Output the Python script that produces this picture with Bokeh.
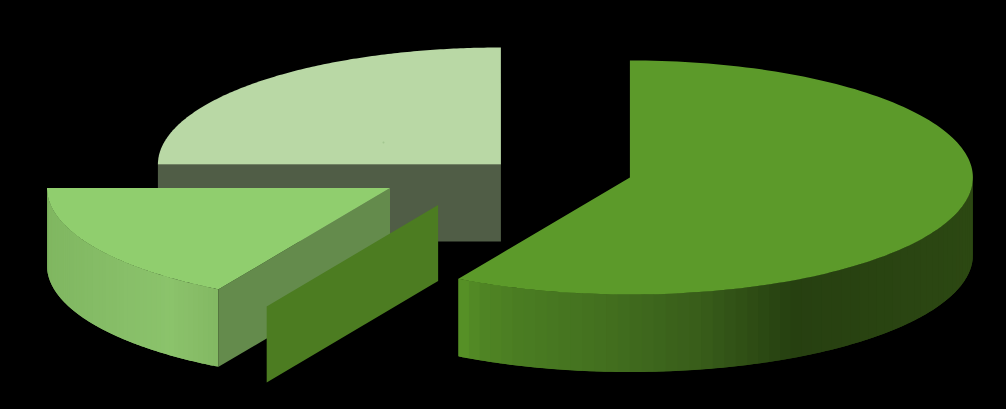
import numpy as np
from bokeh.embed import file_html
from bokeh.models import ColumnDataSource, GlobalInlineStyleSheet, Range1d
from bokeh.plotting import figure
from bokeh.resources import INLINE

# Chart data: share of each slice in percent, in clockwise order from 12 o'clock
slice_names = ["A", "B", "C", "D"]
slice_values = [58.33, 0.0, 16.67, 25.0]

# Styles per slice
top_colors = ["#5c9a2a", "#4c7c21", "#90ce6e", "#b9d8a5"]
face_colors = ["#4c7c21", "#4c7c21", "#648b4c", "#505d46"]
wall_stops = {
    "A": ([458, 480, 520, 600, 700, 790, 805, 973],
          ["#589327", "#508524", "#4a7c22", "#43701f", "#385d1a", "#264010", "#274011", "#2c4812"]),
    "C": ([47, 130, 170, 190, 219],
          ["#80b761", "#88bf69", "#8bc36b", "#88be68", "#82b862"]),
}

# Layout of the exploded pie
RX, RY = 343.0, 117.0
depth = {"A": 77.5, "B": 76.0, "C": 77.5, "D": 77.0}
apex = {"A": (629.4, 177.0), "B": (437.6, 204.6), "C": (389.5, 187.5), "D": (500.4, 164.0)}


def rim(cx, cy, a0, a1, n=160):
    t = np.radians(np.linspace(a0, a1, n))
    return cx + RX * np.sin(t), cy - RY * np.cos(t)


def hex2rgb(c):
    return [int(c[i:i + 2], 16) for i in (1, 3, 5)]


def color_at(x, stops):
    xs, cols = stops
    rgb = np.array([hex2rgb(c) for c in cols], dtype=float)
    vals = [int(round(float(np.interp(x, xs, rgb[:, k])))) for k in range(3)]
    return "#%02x%02x%02x" % tuple(vals)


p = figure(width=1006, height=409, x_range=Range1d(0, 1006), y_range=Range1d(409, 0),
           x_axis_type=None, y_axis_type=None, toolbar_location=None,
           output_backend="svg", min_border=0, outline_line_color=None,
           background_fill_color="#000000", border_fill_color="#000000")
p.grid.visible = False
p.stylesheets = [GlobalInlineStyleSheet(css="html,body{margin:0;padding:0;background:#000;overflow:hidden}")]

# Start and end angle of every slice, derived from the values
ends = np.cumsum(slice_values) / sum(slice_values) * 360.0
starts = np.concatenate([[0.0], ends[:-1]])
angles = {n: (s, e) for n, s, e in zip(slice_names, starts, ends)}
idx = {n: i for i, n in enumerate(slice_names)}


def poly(xs, ys, color):
    src = ColumnDataSource(dict(x=[list(xs)], y=[list(ys)], c=[color]))
    p.patches("x", "y", source=src, fill_color="c", line_color=None)


def inner_face(name, angle):
    cx, cy = apex[name]
    ex, ey = rim(cx, cy, angle, angle, 1)
    d = depth[name]
    poly([cx, ex[0], ex[0], cx], [cy, ey[0], ey[0] + d, cy + d], face_colors[idx[name]])


def outer_wall(name, a0, a1, n=60):
    # Each band reaches into the next one, which paints over it, so that no seams show
    cx, cy = apex[name]
    d = depth[name]
    edges = np.linspace(a0, a1, n + 1)
    step = edges[1] - edges[0]
    xs, ys, cs = [], [], []
    for u, v in zip(edges[:-1], edges[1:]):
        x, y = rim(cx, cy, u, v, 4)
        cs.append(color_at(x.mean(), wall_stops[name]))
        x, y = rim(cx, cy, u, min(v + step, a1), 6)
        xs.append(list(x) + list(x[::-1]))
        ys.append(list(y) + list(y[::-1] + d))
    src = ColumnDataSource(dict(x=xs, y=ys, c=cs))
    p.patches("x", "y", source=src, fill_color="c", line_color=None)


def top(name):
    cx, cy = apex[name]
    a0, a1 = angles[name]
    x, y = rim(cx, cy, a0, a1)
    poly([cx] + list(x), [cy] + list(y), top_colors[idx[name]])


# Painter's order: back slice first, front slices afterwards
inner_face("D", angles["D"][0])
top("D")
outer_wall("C", *angles["C"])
inner_face("C", angles["C"][0])
top("C")
inner_face("B", angles["B"][0])
outer_wall("A", 90.0, angles["A"][1])
top("A")

p.scatter([383], [142], size=2, color="#a3c690", line_color=None)

open("out.html", "w").write(file_html(p, INLINE))
